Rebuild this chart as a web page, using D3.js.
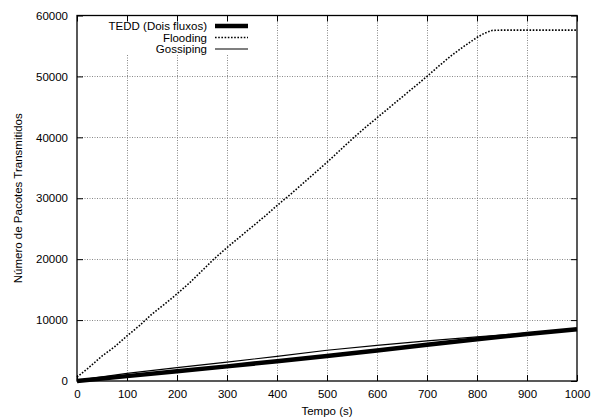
<!DOCTYPE html>
<html>
<head>
<meta charset="utf-8">
<script src="https://cdn.jsdelivr.net/npm/d3@7"></script>
<style>
  html, body { margin: 0; padding: 0; background: #fff; }
  svg { display: block; }
  text { font-family: "Liberation Sans", Arial, Helvetica, sans-serif; }
</style>
</head>
<body>
<script>
// ---- Data ----
const floodTime = [0, 25, 50, 75, 100, 125, 150, 175, 200, 225, 250, 275, 300, 325, 350, 375, 400, 425, 450, 475, 500, 525, 550, 575, 600, 625, 650, 675, 700, 725, 750, 775, 800, 815, 830, 850, 900, 950, 1000];
const floodValues = [650, 2300, 4100, 5600, 7400, 9100, 11000, 12600, 14300, 16100, 18100, 20100, 21900, 23600, 25300, 27000, 28800, 30500, 32300, 34100, 35900, 37800, 39700, 41500, 43200, 44900, 46600, 48300, 50000, 51800, 53500, 55000, 56400, 57100, 57550, 57600, 57600, 57600, 57600];
const lineTime = [0, 100, 200, 300, 400, 500, 600, 700, 800, 900, 1000];
const teddValues = [0, 800, 1600, 2400, 3250, 4100, 5000, 5950, 6850, 7700, 8500];
const gossipValues = [100, 1250, 2200, 3100, 4050, 5050, 5850, 6600, 7250, 7850, 8500];
const xTicks = [0, 100, 200, 300, 400, 500, 600, 700, 800, 900, 1000];
const yTicks = [0, 10000, 20000, 30000, 40000, 50000, 60000];
const seriesNames = ["TEDD (Dois fluxos)", "Flooding", "Gossiping"];
const xTitle = "Tempo (s)";
const yTitle = "Número de Pacotes Transmitidos";

// ---- Layout ----
const W = 592, H = 419;
const m = { left: 77, right: 15, top: 15.5, bottom: 38 };
const x = d3.scaleLinear().domain([0, 1000]).range([m.left, W - m.right]);
const y = d3.scaleLinear().domain([0, 60000]).range([H - m.bottom, m.top]);
const fs = "11.5px";

const svg = d3.select("body").append("svg").attr("width", W).attr("height", H);

// grid
const grid = svg.append("g").attr("stroke", "#888").attr("stroke-width", 1).attr("stroke-dasharray", "1,1.5");
grid.selectAll(".gx").data(xTicks.slice(1, -1)).join("line")
  .attr("x1", d => Math.round(x(d)) + 0.5).attr("x2", d => Math.round(x(d)) + 0.5)
  .attr("y1", y(0)).attr("y2", y(60000));
grid.selectAll(".gy").data(yTicks.slice(1, -1)).join("line")
  .attr("y1", d => Math.round(y(d)) + 0.5).attr("y2", d => Math.round(y(d)) + 0.5)
  .attr("x1", x(0)).attr("x2", x(1000));

// legend background
const legX = 104, legY = 16, legW = 150, legH = 39;
svg.append("rect").attr("x", legX).attr("y", legY).attr("width", legW).attr("height", legH).attr("fill", "#fff");

// lines
const lineGen = d3.line().x(d => x(d[0])).y(d => y(d[1]));
svg.append("path").datum(lineTime.map((t, i) => [t, gossipValues[i]]))
  .attr("d", lineGen).attr("fill", "none").attr("stroke", "#000").attr("stroke-width", 1.2);
svg.append("path").datum(lineTime.map((t, i) => [t, teddValues[i]]))
  .attr("d", lineGen).attr("fill", "none").attr("stroke", "#000").attr("stroke-width", 4.5);
svg.append("path").datum(floodTime.map((t, i) => [t, floodValues[i]]))
  .attr("d", lineGen).attr("fill", "none").attr("stroke", "#000").attr("stroke-width", 1.6)
  .attr("stroke-dasharray", "1.6,1.6");

// axes (ticks inward, mirrored)
const tickLen = 6;
const axB = svg.append("g").attr("transform", `translate(0,${y(0)})`)
  .call(d3.axisBottom(x).tickValues(xTicks).tickSize(-tickLen).tickPadding(9).tickFormat(d3.format("d")));
const axT = svg.append("g").attr("transform", `translate(0,${y(60000)})`)
  .call(d3.axisTop(x).tickValues(xTicks).tickSize(-tickLen).tickFormat(""));
const axL = svg.append("g").attr("transform", `translate(${x(0)},0)`)
  .call(d3.axisLeft(y).tickValues(yTicks).tickSize(-tickLen).tickPadding(9).tickFormat(d3.format("d")));
const axR = svg.append("g").attr("transform", `translate(${x(1000)},0)`)
  .call(d3.axisRight(y).tickValues(yTicks).tickSize(-tickLen).tickFormat(""));
[axB, axT, axL, axR].forEach(a => {
  a.select(".domain").remove();
  a.selectAll("line").attr("stroke", "#000").attr("stroke-width", 1);
  a.selectAll("text").attr("font-size", fs).attr("fill", "#000")
    .attr("font-family", '"Liberation Sans", Arial, sans-serif');
});
svg.append("rect").attr("x", x(0)).attr("y", y(60000)).attr("width", x(1000) - x(0)).attr("height", y(0) - y(60000))
  .attr("fill", "none").attr("stroke", "#000").attr("stroke-width", 1.3);

// axis titles
svg.append("text").attr("x", (x(0) + x(1000)) / 2).attr("y", 415).attr("text-anchor", "middle")
  .attr("font-size", fs).text(xTitle);
svg.append("text").attr("transform", `translate(22,${(y(0) + y(60000)) / 2}) rotate(-90)`)
  .attr("text-anchor", "middle").attr("font-size", fs).text(yTitle);

// legend
const rows = [26, 37.5, 49];
const styles = [
  { w: 4.5, dash: null },
  { w: 1.6, dash: "1.6,1.6" },
  { w: 1.2, dash: null }
];
seriesNames.forEach((name, i) => {
  svg.append("text").attr("x", 207).attr("y", rows[i] + 4).attr("text-anchor", "end")
    .attr("font-size", fs).text(name);
  const l = svg.append("line").attr("x1", 215).attr("x2", 248).attr("y1", rows[i]).attr("y2", rows[i])
    .attr("stroke", "#000").attr("stroke-width", styles[i].w);
  if (styles[i].dash) l.attr("stroke-dasharray", styles[i].dash);
});
</script>
</body>
</html>
